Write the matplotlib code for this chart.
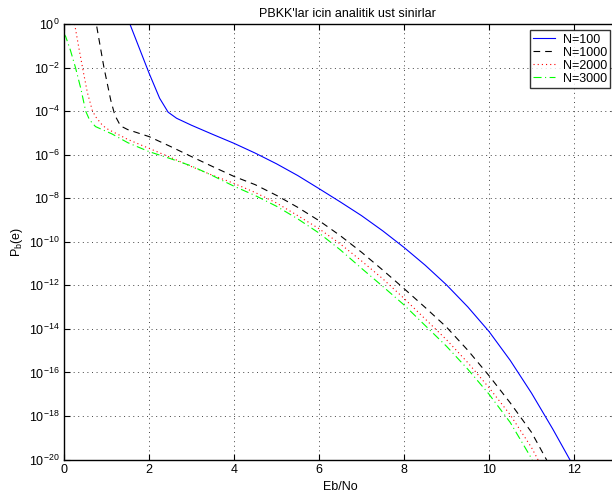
import numpy as np
import matplotlib
matplotlib.use("Agg")
import matplotlib.pyplot as plt
from matplotlib.ticker import FixedLocator, NullLocator, LogFormatterSciNotation

plt.rcParams['font.family'] = ['Liberation Sans', 'DejaVu Sans']
plt.rcParams['mathtext.default'] = 'regular'
plt.rcParams['lines.scale_dashes'] = False

# ---- data (Eb/No, log10 of P_b(e)) ----
ebno_100 = [1.5, 1.75, 2.0, 2.25, 2.45, 2.65, 3.0, 3.5, 4.0, 4.5, 5.0, 5.5, 6.0,
            6.5, 7.0, 7.5, 8.0, 8.5, 9.0, 9.5, 10.0, 10.5, 11.0, 11.5, 12.0]
logp_100 = [0.25, -1.0, -2.25, -3.41, -4.05, -4.33, -4.65, -5.07, -5.48, -5.93, -6.42,
            -6.96, -7.56, -8.17, -8.8, -9.5, -10.26, -11.08, -11.98, -12.99, -14.12,
            -15.45, -16.95, -18.6, -20.35]

ebno_1000 = [0.7, 0.76, 0.94, 1.1, 1.17, 1.2, 1.33, 1.5, 2.0, 2.5, 3.0, 3.5, 4.0, 4.5,
             5.0, 5.5, 6.0, 6.5, 7.0, 7.5, 8.0, 8.5, 9.0, 9.5, 10.0, 10.5, 11.0, 11.35, 11.4]
logp_1000 = [0.4, 0.0, -2.0, -3.5, -4.0, -4.2, -4.68, -4.85, -5.17, -5.62, -6.09, -6.55,
             -7.0, -7.38, -7.87, -8.42, -9.03, -9.72, -10.48, -11.3, -12.15, -13.02, -13.92,
             -14.98, -16.15, -17.4, -18.75, -20.0, -20.2]

ebno_2000 = [0.25, 0.35, 0.45, 0.55, 0.67, 0.76, 0.9, 1.0, 1.5, 2.0, 2.5, 3.0, 3.5, 4.0,
             4.5, 5.0, 5.5, 6.0, 6.5, 7.0, 7.5, 8.0, 8.5, 9.0, 9.5, 10.0, 10.5, 11.0, 11.15, 11.2]
logp_2000 = [0.0, -1.1, -2.15, -3.15, -4.0, -4.3, -4.64, -4.8, -5.3, -5.71, -6.12, -6.55,
             -6.95, -7.32, -7.74, -8.22, -8.8, -9.4, -10.1, -10.88, -11.7, -12.6, -13.55,
             -14.5, -15.55, -16.7, -17.95, -19.45, -20.0, -20.2]

ebno_3000 = [0.0, 0.04, 0.15, 0.27, 0.4, 0.51, 0.6, 0.74, 1.13, 1.5, 2.0, 2.5, 3.0, 3.5,
             4.0, 4.5, 5.0, 5.5, 6.0, 6.5, 7.0, 7.5, 8.0, 8.5, 9.0, 9.5, 10.0, 10.5, 11.0, 11.05]
logp_3000 = [-0.45, -0.58, -1.2, -2.0, -3.0, -4.0, -4.4, -4.71, -5.05, -5.45, -5.86,
             -6.18, -6.52, -6.97, -7.45, -7.88, -8.37, -8.95, -9.6, -10.37, -11.22,
             -12.05, -12.9, -13.85, -14.8, -15.85, -17.0, -18.3, -19.95, -20.2]

labels = ['N=100', 'N=1000', 'N=2000', 'N=3000']
xticks = [0, 2, 4, 6, 8, 10, 12]
yticks = [1e0, 1e-2, 1e-4, 1e-6, 1e-8, 1e-10, 1e-12, 1e-14, 1e-16, 1e-18, 1e-20]

W, H = 612, 494
fig = plt.figure(figsize=(W / 100, H / 100), dpi=100)
ax = fig.add_axes([64 / W, (H - 459.5) / H, 552.5 / W, 435.5 / H])

ax.semilogy(ebno_100, np.power(10.0, logp_100), color=(0, 0, 1), lw=0.8, label=labels[0])
ax.semilogy(ebno_1000, np.power(10.0, logp_1000), color='black', lw=0.8,
            dashes=(4.8, 3.6), label=labels[1])
ax.semilogy(ebno_2000, np.power(10.0, logp_2000), color=(1, 0, 0), lw=0.8,
            dashes=(0.8, 2.2), label=labels[2])
ax.semilogy(ebno_3000, np.power(10.0, logp_3000), color=(0, 1, 0), lw=0.8,
            dashes=(5.8, 2.5, 0.8, 2.5), label=labels[3])

ax.set_xlim(0, 13)
ax.set_ylim(1e-20, 1e0)
ax.xaxis.set_major_locator(FixedLocator(xticks))
ax.yaxis.set_major_locator(FixedLocator(yticks))
ax.yaxis.set_minor_locator(NullLocator())
ax.xaxis.set_minor_locator(NullLocator())
ax.yaxis.set_major_formatter(LogFormatterSciNotation())
ax.tick_params(direction='in', top=True, right=True, labelsize=9, length=4, width=0.8, pad=3)
for s in ax.spines.values():
    s.set_linewidth(1.0)
ax.grid(True, which='major', color='#444444', linestyle=(0, (0.7, 2.6)), linewidth=0.7)

ax.set_title("PBKK'lar icin analitik ust sinirlar", fontsize=9, pad=5, x=0.513)
ax.set_xlabel('Eb/No', fontsize=9, labelpad=4)
ax.set_ylabel('P$_b$(e)', fontsize=9, labelpad=3)

leg = ax.legend(loc='upper right', bbox_to_anchor=(610 / W, 1 - 30.5 / H),
                bbox_transform=fig.transFigure, fontsize=9, frameon=True, fancybox=False,
                handlelength=1.8, handletextpad=0.6, borderpad=0.25, labelspacing=0.08,
                borderaxespad=0)
leg.get_frame().set_edgecolor('black')
leg.get_frame().set_linewidth(1.0)

fig.savefig('out.png', dpi=100)
